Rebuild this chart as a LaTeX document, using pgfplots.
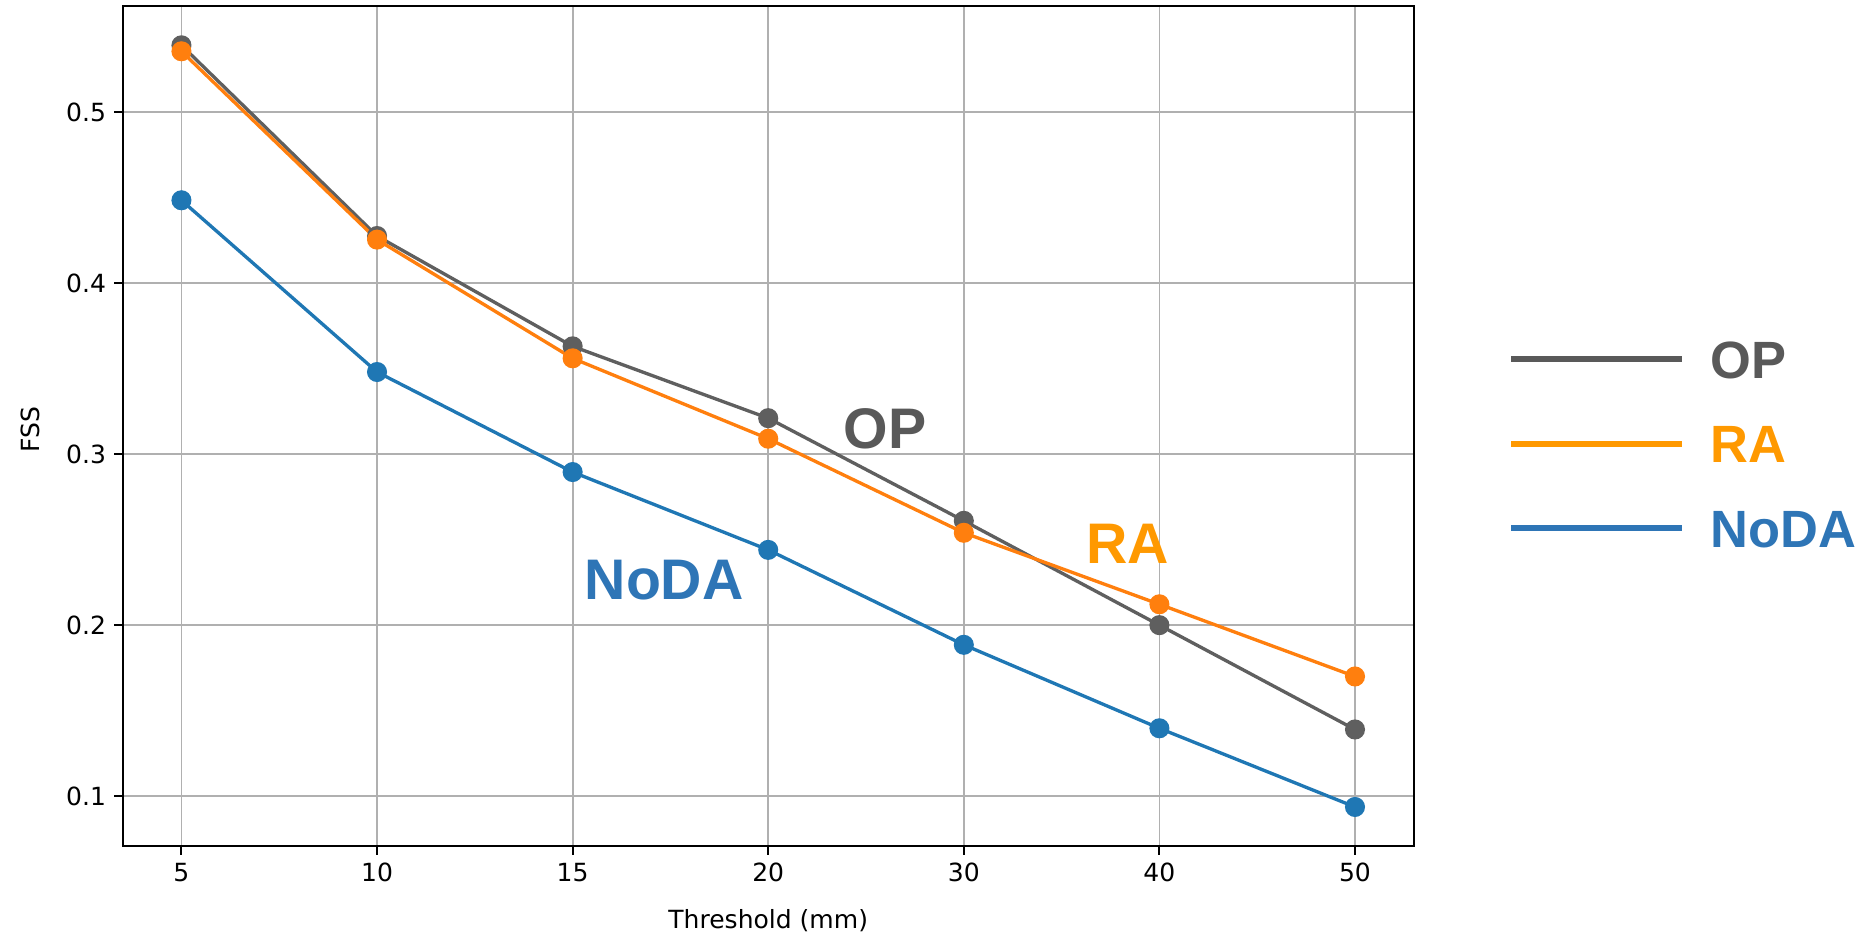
\documentclass[border=0pt]{standalone}
\usepackage{fontspec}
\setmainfont{DejaVu Sans}
\setsansfont{DejaVu Sans}
\newfontfamily\labfont{Liberation Sans}
\usepackage{pgfplots}
\pgfplotsset{compat=1.18}

\definecolor{opline}{HTML}{5F5F5F}
\definecolor{raline}{HTML}{FF7F0E}
\definecolor{nodaline}{HTML}{1F77B4}
\definecolor{optext}{HTML}{595959}
\definecolor{ratext}{HTML}{FF9900}
\definecolor{nodatext}{HTML}{2E75B6}
\definecolor{gridgray}{HTML}{B0B0B0}

\begin{document}
\begin{tikzpicture}
\useasboundingbox (-51.5pt,-37pt) rectangle (732.5pt,355pt);
\begin{axis}[
    at={(0,0)}, anchor=south west,
    scale only axis,
    width=541.5pt, height=352.5pt,
    xmin=-0.3, xmax=6.3,
    ymin=0.0707, ymax=0.562,
    xtick={0,1,2,3,4,5,6},
    xticklabels={5,10,15,20,30,40,50},
    ytick={0.1,0.2,0.3,0.4,0.5},
    yticklabel style={/pgf/number format/fixed},
    /pgf/number format/assume math mode=true,
    grid=major,
    major grid style={gridgray, line width=0.75pt},
    axis line style={black, line width=0.8pt},
    tick align=outside,
    major tick length=3.5pt,
    tick style={black, line width=0.8pt},
    xtick pos=left, ytick pos=left,
    ticklabel style={font=\fontsize{10.5}{12}\selectfont},
    label style={font=\fontsize{10.5}{12}\selectfont},
    xlabel={Threshold (mm)},
    ylabel={FSS},
    xlabel style={at={(axis description cs:0.5,0)}, anchor=center, yshift=-31pt},
    ylabel style={at={(axis description cs:-0.0718,0.496)}, anchor=center},
    legend style={at={(1,0.479)}, anchor=west, xshift=39.5pt,
        draw=none, fill=none, inner sep=0pt, row sep=19.5pt,
        font=\labfont\bfseries\fontsize{22}{22}\selectfont,
        nodes={inner sep=0pt, text depth=0pt, text height=16pt}},
    legend cell align=left,
    /tikz/every odd column/.append style={column sep=11pt},
]
% OP
\addplot[forget plot, opline, line width=1.4pt, mark=*, mark size=3.5pt,
    mark options={fill=opline, draw=none}]
    coordinates {(0,0.539) (1,0.4275) (2,0.363) (3,0.321) (4,0.261) (5,0.200) (6,0.139)};
% RA
\addplot[forget plot, raline, line width=1.4pt, mark=*, mark size=3.5pt,
    mark options={fill=raline, draw=none}]
    coordinates {(0,0.5355) (1,0.4254) (2,0.356) (3,0.309) (4,0.254) (5,0.2122) (6,0.170)};
% NoDA
\addplot[forget plot, nodaline, line width=1.4pt, mark=*, mark size=3.5pt,
    mark options={fill=nodaline, draw=none}]
    coordinates {(0,0.4484) (1,0.348) (2,0.2895) (3,0.244) (4,0.1885) (5,0.1397) (6,0.0937)};

\node[font=\labfont\bfseries\fontsize{24}{24}\selectfont, text=optext, inner sep=0pt]
    at (axis cs:3.598,0.3146) {OP};
\node[font=\labfont\bfseries\fontsize{24}{24}\selectfont, text=ratext, inner sep=0pt]
    at (axis cs:4.838,0.2477) {RA};
\node[font=\labfont\bfseries\fontsize{24}{24}\selectfont, text=nodatext, inner sep=0pt]
    at (axis cs:2.468,0.2261) {NoDA};

\addlegendimage{optext, legend image code/.code={\draw[line width=2.5pt] (0pt,0pt) -- (71.5pt,0pt);}}
\addlegendentry{\textcolor{optext}{OP}}
\addlegendimage{ratext, legend image code/.code={\draw[line width=2.5pt] (0pt,0pt) -- (71.5pt,0pt);}}
\addlegendentry{\textcolor{ratext}{RA}}
\addlegendimage{nodatext, legend image code/.code={\draw[line width=2.5pt] (0pt,0pt) -- (71.5pt,0pt);}}
\addlegendentry{\textcolor{nodatext}{NoDA}}
\end{axis}
\end{tikzpicture}
\end{document}
